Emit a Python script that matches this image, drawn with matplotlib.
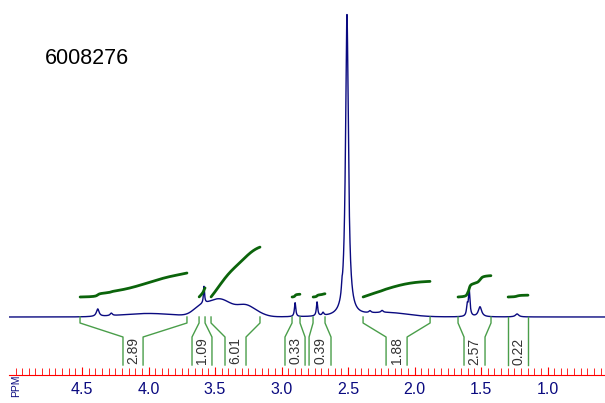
import numpy as np
import matplotlib
matplotlib.use("Agg")
from matplotlib import pyplot as plt
from matplotlib.ticker import MultipleLocator, FixedLocator, FormatStrFormatter

plt.rcParams['font.family'] = ['Liberation Sans', 'DejaVu Sans']

# sharp peaks (Lorentzian): ppm, height, half width
peak_ppm = [4.382, 4.28, 3.583, 2.898, 2.733, 2.688, 2.546, 2.508, 2.335, 2.244,
            1.604, 1.589, 1.508, 1.229]
peak_h = [7.5, 2.5, 17, 14, 14, 3, 8, 302, 2, 2, 10, 26, 10, 3]
peak_w = [0.012, 0.01, 0.005, 0.006, 0.006, 0.008, 0.004, 0.013, 0.01, 0.01,
          0.006, 0.007, 0.015, 0.015]

# broad humps (Gaussian): ppm, height, sigma
hump_ppm = [4.0, 3.62, 3.47, 3.27, 3.18, 2.2]
hump_h = [3.5, 5, 18, 9, 3, 4]
hump_s = [0.2, 0.05, 0.1, 0.06, 0.06, 0.15]

# integrals
int_vals = ['2.89', '1.09', '6.01', '0.33', '0.39', '1.88', '2.57', '0.22']
int_from = [4.515, 3.620, 3.530, 2.921, 2.763, 2.387, 1.673, 1.297]
int_to = [3.711, 3.575, 3.162, 2.861, 2.673, 1.883, 1.425, 1.147]
foot_left = [4.192, 3.673, 3.425, 2.974, 2.793, 2.214, 1.628, 1.297]
foot_right = [4.041, 3.523, 3.267, 2.823, 2.628, 2.056, 1.470, 1.147]

tick_ppm = [4.5, 4.0, 3.5, 3.0, 2.5, 2.0, 1.5, 1.0]

navy = '#0a0a80'
ppm = np.linspace(5.05, 0.568, 6000)
spec = np.zeros_like(ppm)
for c, h, w in zip(peak_ppm, peak_h, peak_w):
    spec += h * w**2 / ((ppm - c)**2 + w**2)
for c, h, s in zip(hump_ppm, hump_h, hump_s):
    spec += h * np.exp(-0.5 * ((ppm - c) / s)**2)

fig = plt.figure(figsize=(6.05, 4.03), dpi=100)
ax = fig.add_axes([9/605, 0, 596/605, 1])
ax.plot(ppm, spec, color=navy, lw=1)

# integral curves and brackets
for val, a, b, fl, fr in zip(int_vals, int_from, int_to, foot_left, foot_right):
    m = (ppm <= a) & (ppm >= b)
    cum = np.cumsum(spec[m])
    cum = cum / cum[-1] * float(val) * 8.3 + 20
    ax.plot(ppm[m], cum, color='#0b640b', lw=2, solid_capstyle='round')
    ax.plot([a, a, fl, fl], [0, -6, -20, -48], color='#4a9e4a', lw=1)
    ax.plot([b, b, fr, fr], [0, -6, -20, -48], color='#4a9e4a', lw=1)
    ax.text((fl + fr) / 2, -34, val, rotation=90, ha='center', va='center',
            fontsize=10, color='#333333')

ax.set_xlim(5.049, 0.568)
ax.set_ylim(-86, 317)
for s in ['top', 'left', 'right']:
    ax.spines[s].set_visible(False)
ax.spines['bottom'].set_position(('data', -58))
ax.spines['bottom'].set_color('red')
ax.set_yticks([])
ax.xaxis.set_major_locator(FixedLocator(tick_ppm))
ax.xaxis.set_minor_locator(MultipleLocator(0.05))
ax.xaxis.set_major_formatter(FormatStrFormatter('%.1f'))
ax.tick_params(axis='x', which='both', direction='in', color='red',
               labelcolor=navy, labelsize=11.5, pad=5)
ax.tick_params(axis='x', which='major', length=6)
ax.tick_params(axis='x', which='minor', length=5)

fig.text(16/605, 1 - 386/403, 'PPM', rotation=90, ha='center', va='center',
         fontsize=7.5, color=navy)
fig.text(45/605, 1 - 58/403, '6008276', fontsize=15.5, ha='left', va='center')

fig.savefig('out.png', dpi=100)
